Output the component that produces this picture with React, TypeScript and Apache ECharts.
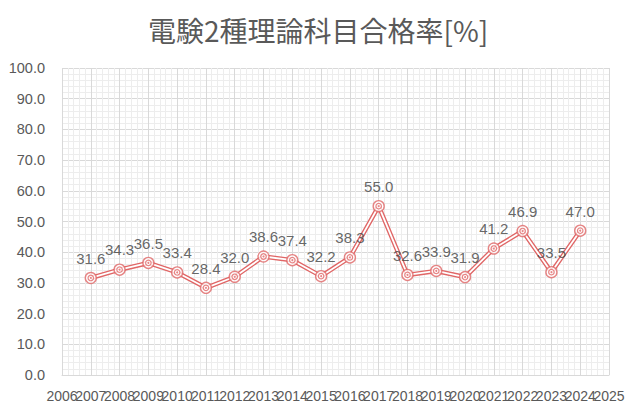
import React, { useEffect, useRef } from "react";
import * as echarts from "echarts";

const years = [2007, 2008, 2009, 2010, 2011, 2012, 2013, 2014, 2015, 2016, 2017, 2018, 2019, 2020, 2021, 2022, 2023, 2024];
const passRates = [31.6, 34.3, 36.5, 33.4, 28.4, 32.0, 38.6, 37.4, 32.2, 38.3, 55.0, 32.6, 33.9, 31.9, 41.2, 46.9, 33.5, 47.0];
const xTickLabels = ["2006", "2007", "2008", "2009", "2010", "2011", "2012", "2013", "2014", "2015", "2016", "2017", "2018", "2019", "2020", "2021", "2022", "2023", "2024", "2025"];
const titleText = "電験2種理論科目合格率[%]";

const RED = "#E06666";
const FONT = "'Liberation Sans', Arial, sans-serif";

export default function App() {
  const ref = useRef<HTMLDivElement>(null);
  useEffect(() => {
    if (!ref.current) return;
    const chart = echarts.init(ref.current, null, { renderer: "svg" });
    const pts = years.map((y, i) => [y, passRates[i]]);
    chart.setOption({
      animation: false,
      backgroundColor: "#fff",
      title: {
        text: titleText,
        left: "center",
        top: 11,
        textStyle: { color: "#595959", fontSize: 28, fontWeight: "normal", fontFamily: "'Noto Sans CJK JP', sans-serif" },
      },
      grid: { left: 62, right: 27, top: 68, bottom: 37, containLabel: false },
      xAxis: [
        {
          type: "value",
          min: Number(xTickLabels[0]),
          max: Number(xTickLabels[xTickLabels.length - 1]),
          interval: 1,
          axisLine: { show: true, lineStyle: { color: "#D9D9D9" } },
          axisTick: { show: false },
          axisLabel: { show: false },
          splitLine: { show: true, lineStyle: { color: "#D9D9D9", width: 1 } },
          minorTick: { show: false, splitNumber: 5 },
          minorSplitLine: { show: true, lineStyle: { color: "#EDEDED", width: 1 } },
        },
        {
          type: "category",
          position: "bottom",
          data: xTickLabels,
          boundaryGap: false,
          axisLine: { show: false },
          axisTick: { show: false },
          splitLine: { show: false },
          axisLabel: {
            interval: 0,
            color: "#595959",
            fontSize: 14,
            fontFamily: FONT,
            margin: 14,
            hideOverlap: false,
          },
        },
      ],
      yAxis: {
        type: "value",
        min: 0,
        max: 100,
        interval: 10,
        axisLine: { show: false },
        axisTick: { show: false },
        axisLabel: {
          color: "#595959",
          fontSize: 14.5,
          fontFamily: FONT,
          margin: 17,
          showMinLabel: true,
          showMaxLabel: true,
          formatter: (v: number) => v.toFixed(1),
        },
        splitLine: { show: true, lineStyle: { color: "#D9D9D9", width: 1 } },
        minorTick: { show: false, splitNumber: 5 },
        minorSplitLine: { show: true, lineStyle: { color: "#EDEDED", width: 1 } },
      },
      series: [
        {
          type: "line",
          xAxisIndex: 0,
          data: pts,
          showSymbol: false,
          z: 2,
          lineStyle: { color: RED, width: 4.5 },
        },
        {
          type: "line",
          xAxisIndex: 0,
          data: pts,
          showSymbol: false,
          z: 3,
          lineStyle: { color: "#fff", width: 1.8 },
        },
        {
          type: "scatter",
          xAxisIndex: 0,
          data: pts,
          symbol: "circle",
          symbolSize: 11,
          z: 4,
          itemStyle: { color: "#fff", borderColor: RED, borderWidth: 1.4 },
          label: {
            show: true,
            position: "top",
            distance: 6,
            color: "#404040",
            fontSize: 15,
            fontFamily: FONT,
            formatter: (p: any) => Number(p.value[1]).toFixed(1),
          },
        },
        {
          type: "scatter",
          xAxisIndex: 0,
          data: pts,
          symbol: "circle",
          symbolSize: 5.5,
          z: 5,
          itemStyle: { color: "#fff", borderColor: RED, borderWidth: 1.2 },
        },
        {
          type: "scatter",
          xAxisIndex: 0,
          data: pts,
          symbol: "circle",
          symbolSize: 2,
          z: 6,
          itemStyle: { color: RED },
        },
      ],
    });
    return () => chart.dispose();
  }, []);
  return <div ref={ref} style={{ width: 636, height: 412, position: "absolute", left: 0, top: 0 }} />;
}
